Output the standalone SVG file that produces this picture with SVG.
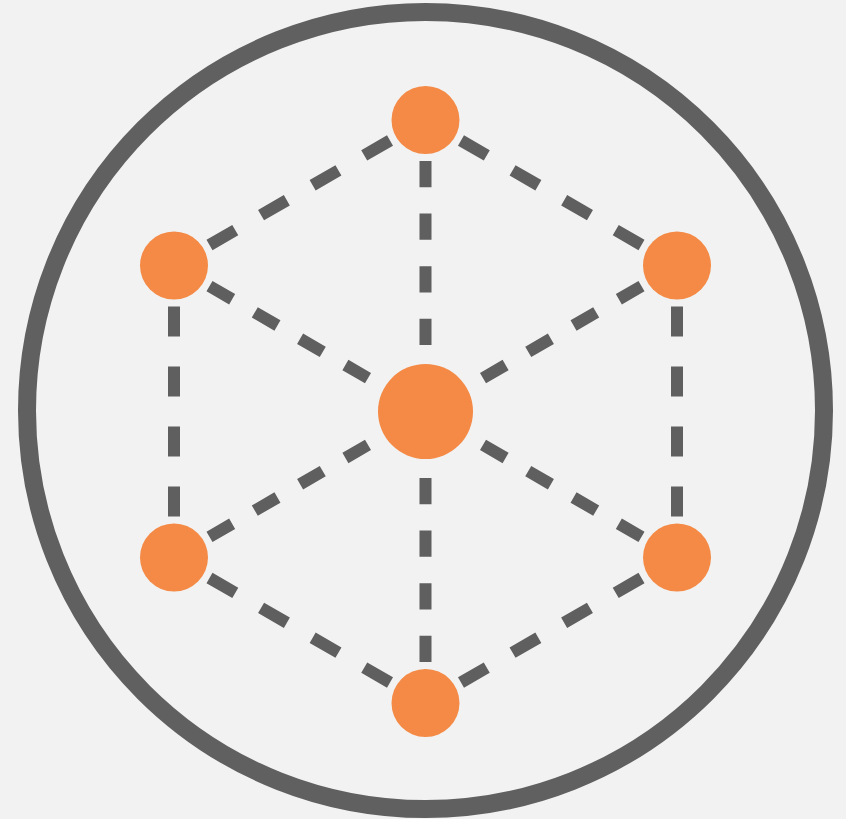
<svg xmlns="http://www.w3.org/2000/svg" width="846" height="819" viewBox="0 0 846 819">
  <style>
    .ring { fill: none; stroke: #606060; stroke-width: 18; }
    .node { fill: #f48a45; }
    .edge { stroke: #5f5f5f; stroke-width: 12; stroke-linecap: butt; fill: none; }
  </style>
  <rect x="0" y="0" width="846" height="819" fill="#f2f2f2"/>
  <circle class="ring" cx="425.5" cy="410.5" r="398.5"/>
  <g id="connectors">
    <line class="edge" x1="425.5" y1="161" x2="425.5" y2="345" stroke-dasharray="26.29 26.29"/>
    <line class="edge" x1="425.5" y1="478" x2="425.5" y2="662" stroke-dasharray="26.29 26.29"/>
    <line class="edge" x1="174" y1="306.5" x2="174" y2="516.5" stroke-dasharray="30 30"/>
    <line class="edge" x1="677" y1="306.5" x2="677" y2="516.5" stroke-dasharray="30 30"/>
    <line class="edge" x1="390.0" y1="140.5" x2="209.5" y2="245.0" stroke-dasharray="29.8 29.8"/>
    <line class="edge" x1="461.0" y1="140.5" x2="641.5" y2="245.0" stroke-dasharray="29.8 29.8"/>
    <line class="edge" x1="209.5" y1="578.0" x2="390.0" y2="682.5" stroke-dasharray="29.8 29.8"/>
    <line class="edge" x1="641.5" y1="578.0" x2="461.0" y2="682.5" stroke-dasharray="29.8 29.8"/>
    <line class="edge" x1="209.5" y1="286.1" x2="368.0" y2="378.1" stroke-dasharray="26.19 26.19"/>
    <line class="edge" x1="641.5" y1="286.1" x2="483.0" y2="378.1" stroke-dasharray="26.19 26.19"/>
    <line class="edge" x1="209.5" y1="536.9" x2="368.0" y2="444.9" stroke-dasharray="26.19 26.19"/>
    <line class="edge" x1="641.5" y1="536.9" x2="483.0" y2="444.9" stroke-dasharray="26.19 26.19"/>
  </g>
  <g id="node-center"><circle class="node" cx="425.5" cy="411.5" r="47.5"/></g>
  <g id="node-top"><circle class="node" cx="425.5" cy="120" r="34"/></g>
  <g id="node-upper-left"><circle class="node" cx="174" cy="265.5" r="34"/></g>
  <g id="node-upper-right"><circle class="node" cx="677" cy="265.5" r="34"/></g>
  <g id="node-lower-left"><circle class="node" cx="174" cy="557.5" r="34"/></g>
  <g id="node-lower-right"><circle class="node" cx="677" cy="557.5" r="34"/></g>
  <g id="node-bottom"><circle class="node" cx="425.5" cy="703" r="34"/></g>
</svg>
